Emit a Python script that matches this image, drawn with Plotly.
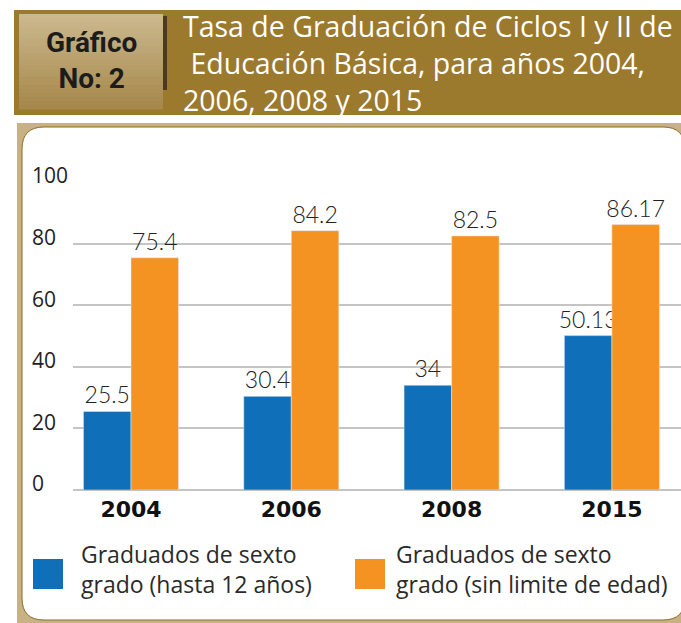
import plotly.graph_objects as go

years = ["2004", "2006", "2008", "2015"]
hasta12 = [25.5, 30.4, 34, 50.13]
sin_limite = [75.4, 84.2, 82.5, 86.17]
y_ticks = [0, 20, 40, 60, 80, 100]
series_names = ["Graduados de sexto<br>grado (hasta 12 años)",
                "Graduados de sexto<br>grado (sin limite de edad)"]
title_lines = ["Tasa de Graduación de Ciclos I y II de",
               "&nbsp;Educación Básica, para años 2004,",
               "2006, 2008 y 2015"]

BLUE = "#0f70b9"
ORANGE = "#f59322"
BROWN = "#9b792d"
TAN = "#c8b283"

W, H = 681, 623
PL, PR, PT, PB = 73, 681, 182, 490

def px(x):
    return (x - PL) / (PR - PL)

def py(y):
    return (PB - y) / (PB - PT)

xs = list(range(len(years)))

fig = go.Figure()
fig.add_trace(go.Bar(x=xs, y=hasta12, name=series_names[0], marker_color=BLUE,
                     texttemplate="%{y}", textposition="outside", cliponaxis=False,
                     constraintext="none", showlegend=False,
                     textfont=dict(family="Lato", size=23, color="#222", weight=300)))
fig.add_trace(go.Bar(x=xs, y=sin_limite, name=series_names[1], marker_color=ORANGE,
                     texttemplate="%{y}", textposition="outside", cliponaxis=False,
                     constraintext="none", showlegend=False,
                     textfont=dict(family="Lato", size=23, color="#222", weight=300)))

shapes = []
# header band
shapes.append(dict(type="rect", xref="paper", yref="paper", layer="below",
                   x0=px(14), x1=px(700), y0=py(10), y1=py(115),
                   fillcolor=BROWN, line=dict(width=0)))
# gradient box
top = (203, 184, 142)
bot = (166, 136, 75)
n = 24
y_top, y_bot = 14, 109
for i in range(n):
    t = i / (n - 1)
    c = tuple(int(round(top[k] + (bot[k] - top[k]) * t)) for k in range(3))
    ya = y_top + (y_bot - y_top) * i / n
    yb = y_top + (y_bot - y_top) * (i + 1) / n
    shapes.append(dict(type="rect", xref="paper", yref="paper", layer="below",
                       x0=px(19), x1=px(163), y0=py(ya), y1=py(yb + 0.5),
                       fillcolor="rgb(%d,%d,%d)" % c, line=dict(width=0)))
shapes.append(dict(type="rect", xref="paper", yref="paper", layer="below",
                   x0=px(163), x1=px(167), y0=py(16), y1=py(90),
                   fillcolor="#4b3b1c", line=dict(width=0)))
# tan frame
shapes.append(dict(type="rect", xref="paper", yref="paper", layer="below",
                   x0=px(17), x1=px(700), y0=py(123), y1=py(630),
                   fillcolor=TAN, line=dict(width=0)))
# white rounded panel
x0, x1, y0, y1, r = 22, 685, 127, 620, 22
path = (f"M {px(x0 + r)},{py(y0)} L {px(x1 - r)},{py(y0)} "
        f"Q {px(x1)},{py(y0)} {px(x1)},{py(y0 + r)} "
        f"L {px(x1)},{py(y1 - r)} Q {px(x1)},{py(y1)} {px(x1 - r)},{py(y1)} "
        f"L {px(x0 + r)},{py(y1)} Q {px(x0)},{py(y1)} {px(x0)},{py(y1 - r)} "
        f"L {px(x0)},{py(y0 + r)} Q {px(x0)},{py(y0)} {px(x0 + r)},{py(y0)} Z")
shapes.append(dict(type="path", xref="paper", yref="paper", layer="below",
                   path=path, fillcolor="white", line=dict(color="#8a6a2a", width=1)))
# legend squares
shapes.append(dict(type="rect", xref="paper", yref="paper",
                   x0=px(33), x1=px(63), y0=py(559), y1=py(589),
                   fillcolor=BLUE, line=dict(width=0)))
shapes.append(dict(type="rect", xref="paper", yref="paper",
                   x0=px(355), x1=px(385), y0=py(559), y1=py(589),
                   fillcolor=ORANGE, line=dict(width=0)))

annotations = []
annotations.append(dict(xref="paper", yref="paper", x=px(91), y=py(60),
                        xanchor="center", yanchor="middle", showarrow=False,
                        text="<b>Gráfico<br>No: 2</b>", align="center",
                        font=dict(family="Roboto", size=28, color="#1c1c1c")))
annotations.append(dict(xref="paper", yref="paper", x=px(181), y=py(63),
                        xanchor="left", yanchor="middle", showarrow=False,
                        text="<br>".join(title_lines), align="left",
                        font=dict(family="Open Sans", size=28.5, color="white")))
annotations.append(dict(xref="paper", yref="paper", x=px(79), y=py(569),
                        xanchor="left", yanchor="middle", showarrow=False,
                        text=series_names[0], align="left",
                        font=dict(family="Open Sans", size=23, color="#2a2a2a")))
annotations.append(dict(xref="paper", yref="paper", x=px(394), y=py(569),
                        xanchor="left", yanchor="middle", showarrow=False,
                        text=series_names[1], align="left",
                        font=dict(family="Open Sans", size=23, color="#2a2a2a")))

tick_text = []
for v in y_ticks:
    s = str(v)
    tick_text.append(s + "\u2007" * (3 - len(s)))

fig.update_layout(
    width=W, height=H,
    margin=dict(l=PL, r=W - PR, t=PT, b=H - PB),
    paper_bgcolor="white", plot_bgcolor="rgba(0,0,0,0)",
    barmode="group", bargap=0.407, bargroupgap=0,
    shapes=shapes, annotations=annotations,
    xaxis=dict(tickvals=xs, ticktext=["<b>%s</b>" % y for y in years],
               range=[(PL - 131) / 160.3, (PR - 131) / 160.3],
               showgrid=False, zeroline=False, showline=False, ticks="",
               ticklabelstandoff=4,
               tickfont=dict(family="DejaVu Sans", size=22, color="#111")),
    yaxis=dict(range=[0, 100], tickvals=y_ticks, ticktext=tick_text,
               showgrid=True, gridcolor="#c4c4c4", gridwidth=2,
               zeroline=True, zerolinecolor="#c4c4c4", zerolinewidth=2,
               showline=False, ticks="", ticklabelshift=-6, ticklabelstandoff=4,
               tickfont=dict(family="Open Sans", size=21, color="#222")),
)

fig.write_html("out.html", config={"displayModeBar": False},
               post_script="document.body.style.margin='0';document.body.style.overflow='hidden';")
